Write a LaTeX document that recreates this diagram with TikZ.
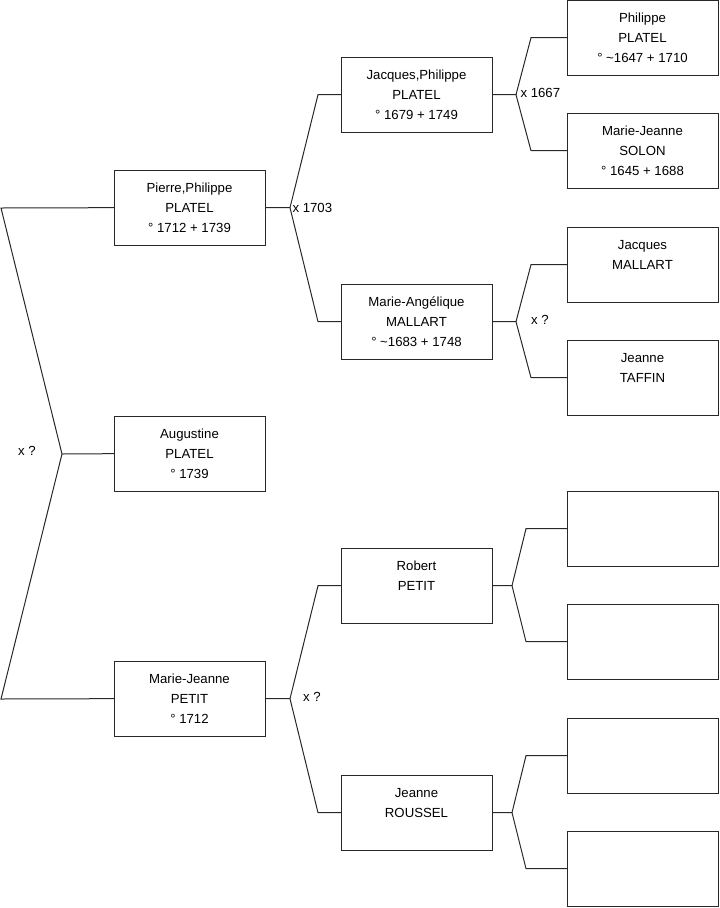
\documentclass[tikz,border=0pt]{standalone}
\usepackage{fontspec}
\setmainfont{Liberation Sans}
\usetikzlibrary{calc}
\definecolor{lineGray}{RGB}{40,40,40}

\begin{document}
\begin{tikzpicture}[
    x=0.75pt,
    y=-0.75pt,
    line width=0.75pt,
    line join=miter,
    person/.style={
        draw=lineGray,
        rectangle,
        anchor=north west,
        minimum width=113.25pt,
        minimum height=56.5pt,
        inner sep=0pt,
        outer sep=0pt,
        align=center,
        font=\fontsize{9.9pt}{15pt}\selectfont
    },
    union/.style={
        inner sep=0pt,
        font=\fontsize{9.9pt}{15pt}\selectfont
    },
    link/.style={
        draw=lineGray
    }
]
    \useasboundingbox (0,0) rectangle (719,908);

    % generation 1
    \node[person] (pierre)    at (114,170) {Pierre,Philippe\\PLATEL\\° 1712 + 1739};
    \node[person] (augustine) at (114,416) {Augustine\\PLATEL\\° 1739};
    \node[person] (mjpetit)   at (114,661) {Marie-Jeanne\\PETIT\\° 1712};

    % generation 2
    \node[person] (jacquesph)  at (341,57)  {Jacques,Philippe\\PLATEL\\° 1679 + 1749};
    \node[person] (mangelique) at (341,284) {Marie-Angélique\\MALLART\\° \textasciitilde1683 + 1748};
    \node[person] (robert)     at (341,548) {Robert\\PETIT\\\mbox{}};
    \node[person] (roussel)    at (341,775) {Jeanne\\ROUSSEL\\\mbox{}};

    % generation 3
    \node[person] (philippe) at (567,0)   {Philippe\\PLATEL\\° \textasciitilde1647 + 1710};
    \node[person] (solon)    at (567,113) {Marie-Jeanne\\SOLON\\° 1645 + 1688};
    \node[person] (jacquesm) at (567,227) {Jacques\\MALLART\\\mbox{}};
    \node[person] (taffin)   at (567,340) {Jeanne\\TAFFIN\\\mbox{}};
    \node[person] (e1)       at (567,491) {};
    \node[person] (e2)       at (567,604) {};
    \node[person] (e3)       at (567,718) {};
    \node[person] (e4)       at (567,831) {};

    % left fork (siblings)
    \coordinate (root) at (62,454);
    \coordinate (rootup) at (1,208);
    \coordinate (rootdn) at (1,699);
    \path[link] (augustine.west) -- (root);
    \path[link] (pierre.west) -- (rootup) -- (root) -- (rootdn) -- (mjpetit.west);
    \node[union] (u0) at (27,451) {x ?};

    % parent forks
    \foreach \src/\up/\dn/\a/\b in {pierre/jacquesph/mangelique/25/28,
                                    mjpetit/robert/roussel/25/28,
                                    jacquesph/philippe/solon/24/15,
                                    mangelique/jacquesm/taffin/24/15,
                                    robert/e1/e2/20/14,
                                    roussel/e3/e4/20/14} {
        \path (\src.east) ++(\a,0) coordinate (\src-b) ++(\b,0) coordinate (\src-c);
        \path[link] (\src.east) -- (\src-b)
            -- (\src-c |- \up.west) -- (\up.west);
        \path[link] (\src-b) -- (\src-c |- \dn.west) -- (\dn.west);
    }

    \node[union, anchor=west] (u1) at ($(pierre-b)+(2,0)$) {x 1703};
    \node[union] (u2) at (312,697) {x ?};
    \node[union, anchor=west] (u3) at ($(jacquesph-b)+(4,-2)$) {x 1667};
    \node[union] (u4) at (540,320) {x ?};

\end{tikzpicture}
\end{document}
